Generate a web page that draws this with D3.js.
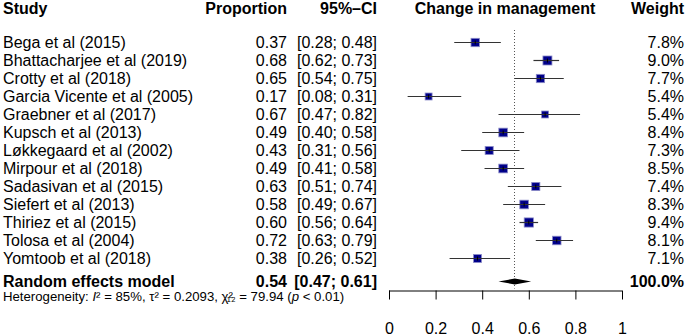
<!DOCTYPE html>
<html>
<head>
<meta charset="utf-8">
<script src="https://cdn.jsdelivr.net/npm/d3@7"></script>
<style>
  body { margin: 0; background: #fff; }
  svg { font-family: "Liberation Sans", Arial, sans-serif; }
</style>
</head>
<body>
<svg width="685" height="335"></svg>
<script>
// study data
var studies = ["Bega et al (2015)", "Bhattacharjee et al (2019)", "Crotty et al (2018)",
  "Garcia Vicente et al (2005)", "Graebner et al (2017)", "Kupsch et al (2013)",
  "Løkkegaard et al (2002)", "Mirpour et al (2018)", "Sadasivan et al (2015)",
  "Siefert et al (2013)", "Thiriez et al (2015)", "Tolosa et al (2004)", "Yomtoob et al (2018)"];
var proportion = [0.37, 0.68, 0.65, 0.17, 0.67, 0.49, 0.43, 0.49, 0.63, 0.58, 0.60, 0.72, 0.38];
var lower = [0.28, 0.62, 0.54, 0.08, 0.47, 0.40, 0.31, 0.41, 0.51, 0.49, 0.56, 0.63, 0.26];
var upper = [0.48, 0.73, 0.75, 0.31, 0.82, 0.58, 0.56, 0.58, 0.74, 0.67, 0.64, 0.79, 0.52];
var weight = [7.8, 9.0, 7.7, 5.4, 5.4, 8.4, 7.3, 8.5, 7.4, 8.3, 9.4, 8.1, 7.1];
var pooled = {est: 0.54, lo: 0.47, hi: 0.61, w: 100.0};
var ticks = [0, 0.2, 0.4, 0.6, 0.8, 1];

var svg = d3.select("svg");
var fmt = d3.format(".2f");
var fs = 16;

var x = d3.scaleLinear().domain([0, 1]).range([389, 622]);
var y = d3.scaleBand().domain(d3.range(studies.length)).range([33, 267]);
var size = d3.scaleSqrt().domain([0, 9.0]).range([0, 9]);

var rowY = function(i) { return Math.round(y(i) + y.bandwidth() / 2) + 0.5; };
var pooledY = 281.5, axisY = 290.5;

// headers
var head = svg.append("g").attr("font-weight", "bold").attr("font-size", fs);
head.append("text").attr("x", 3).attr("y", 14).text("Study");
head.append("text").attr("x", 287).attr("y", 14).attr("text-anchor", "end").text("Proportion");
head.append("text").attr("x", 377).attr("y", 14).attr("text-anchor", "end").text("95%\u2013CI");
head.append("text").attr("x", 505).attr("y", 14).attr("text-anchor", "middle").text("Change in management");
head.append("text").attr("x", 684).attr("y", 14).attr("text-anchor", "end").text("Weight");

// rows of text
var rows = svg.append("g").attr("font-size", fs).selectAll("g").data(studies).enter().append("g")
  .attr("transform", function(d, i) { return "translate(0," + (rowY(i) + 5.5) + ")"; });
rows.append("text").attr("x", 3).text(function(d) { return d; });
rows.append("text").attr("x", 287).attr("text-anchor", "end").text(function(d, i) { return fmt(proportion[i]); });
rows.append("text").attr("x", 377).attr("text-anchor", "end")
  .text(function(d, i) { return "[" + fmt(lower[i]) + "; " + fmt(upper[i]) + "]"; });
rows.append("text").attr("x", 684).attr("text-anchor", "end").text(function(d, i) { return weight[i].toFixed(1) + "%"; });

// pooled row
var pr = svg.append("g").attr("font-size", fs).attr("font-weight", "bold");
pr.append("text").attr("x", 3).attr("y", pooledY + 5.5).text("Random effects model");
pr.append("text").attr("x", 287).attr("y", pooledY + 5.5).attr("text-anchor", "end").text(fmt(pooled.est));
pr.append("text").attr("x", 377).attr("y", pooledY + 5.5).attr("text-anchor", "end")
  .text("[" + fmt(pooled.lo) + "; " + fmt(pooled.hi) + "]");
pr.append("text").attr("x", 684).attr("y", pooledY + 5.5).attr("text-anchor", "end").text(pooled.w.toFixed(1) + "%");

// heterogeneity line
var het = svg.append("text").attr("x", 3).attr("y", pooledY + 19).attr("font-size", 13.2);
het.append("tspan").text("Heterogeneity: ");
het.append("tspan").attr("font-style", "italic").text("I");
het.append("tspan").text("\u00b2 = 85%, \u03c4\u00b2 = 0.2093, \u03c7\u00b2");
het.append("tspan").attr("dx", -6).attr("font-size", 12).text("\u2081\u2082");
het.append("tspan").text(" = 79.94 (");
het.append("tspan").attr("font-style", "italic").text("p");
het.append("tspan").text(" < 0.01)");

// reference (pooled) dotted line
svg.append("line")
  .attr("x1", Math.round(x(pooled.est)) - 0.5).attr("x2", Math.round(x(pooled.est)) - 0.5)
  .attr("y1", 30).attr("y2", axisY - 2)
  .attr("stroke", "#555").attr("stroke-dasharray", "1,2");

// CI lines and squares
var marks = svg.append("g").selectAll("g").data(studies).enter().append("g");
marks.append("rect")
  .attr("x", function(d, i) { return x(proportion[i]) - size(weight[i]) / 2; })
  .attr("y", function(d, i) { return rowY(i) - size(weight[i]) / 2; })
  .attr("width", function(d, i) { return size(weight[i]); })
  .attr("height", function(d, i) { return size(weight[i]); })
  .attr("fill", "#00008b").attr("stroke", "#8c8cc8").attr("stroke-width", 0.8);
marks.append("line")
  .attr("x1", function(d, i) { return x(lower[i]); })
  .attr("x2", function(d, i) { return x(upper[i]); })
  .attr("y1", function(d, i) { return rowY(i); })
  .attr("y2", function(d, i) { return rowY(i); })
  .attr("stroke", "#333").attr("stroke-width", 1.2);
marks.append("line")
  .attr("x1", function(d, i) { return x(proportion[i]); })
  .attr("x2", function(d, i) { return x(proportion[i]); })
  .attr("y1", function(d, i) { return rowY(i) - 2; })
  .attr("y2", function(d, i) { return rowY(i) + 2; })
  .attr("stroke", "#000").attr("stroke-width", 1);

// pooled diamond
svg.append("path")
  .attr("d", "M" + x(pooled.lo) + "," + pooledY + "L" + x(pooled.est) + "," + (pooledY - 3) +
    "L" + x(pooled.hi) + "," + pooledY + "L" + x(pooled.est) + "," + (pooledY + 3) + "Z")
  .attr("fill", "#000");

// x axis
var axis = svg.append("g").attr("transform", "translate(0," + axisY + ")")
  .call(d3.axisBottom(x).tickValues(ticks).tickSize(9).tickPadding(23)
    .tickFormat(function(d) { return d === 0 || d === 1 ? String(d) : d.toFixed(1); }));
axis.select(".domain").attr("stroke", "#000").attr("d", "M389,0.5H622");
axis.selectAll(".tick line").attr("stroke", "#000");
axis.selectAll("text").attr("font-size", fs).attr("font-family", "Liberation Sans, Arial, sans-serif").attr("fill", "#000");
</script>
</body>
</html>
